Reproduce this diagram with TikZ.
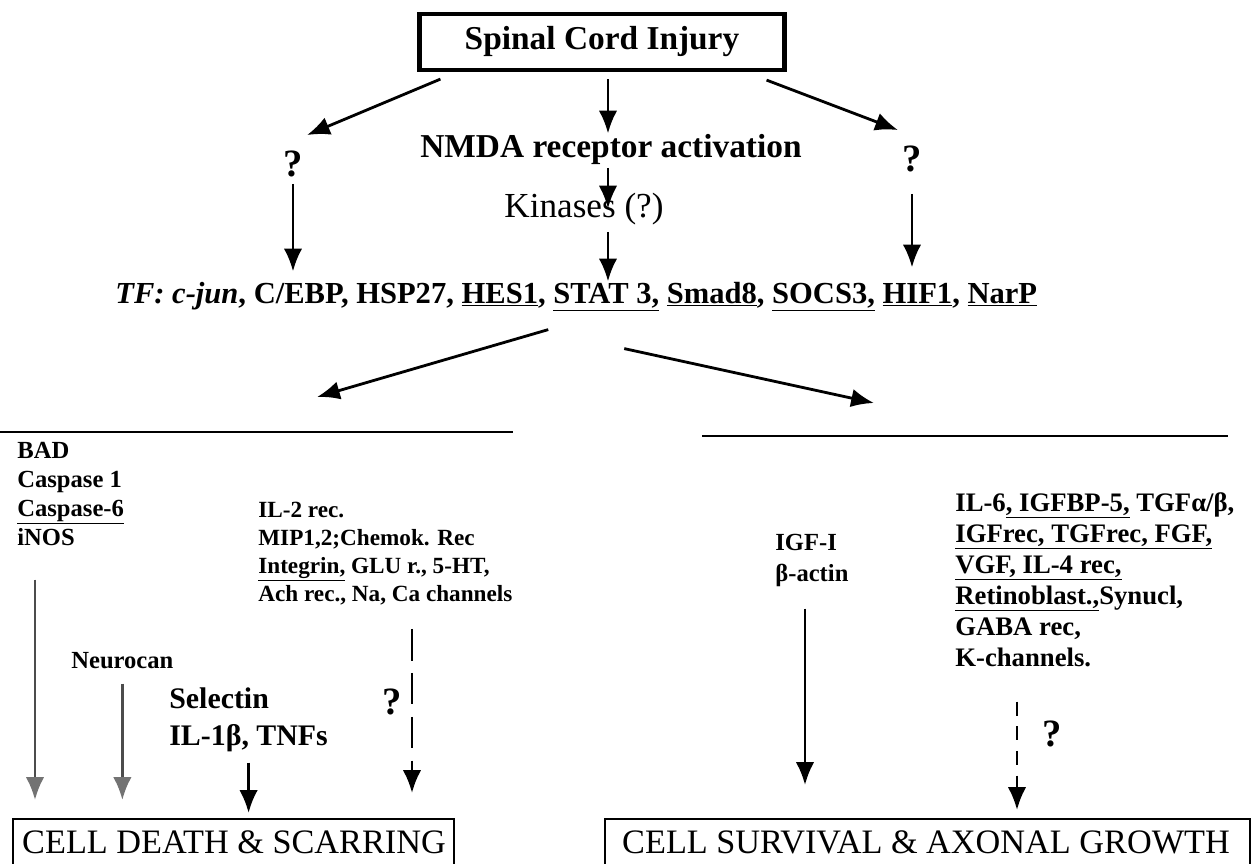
\documentclass[tikz,border=0pt]{standalone}
\usepackage{fontspec}
\setmainfont{Liberation Serif}
\usetikzlibrary{arrows.meta}

\begin{document}
\begin{tikzpicture}[x=0.02cm,y=-0.02cm,
  arr/.style={-{Latex[length=13pt,width=10.5pt]},line width=1.6pt},
  grayarr/.style={draw=black!70,-{Latex[length=13pt,width=10.5pt,color=black!55]},line width=1.6pt},
  dasharr/.style={arr,dash pattern=on 18pt off 7pt},
  dasharrb/.style={arr,dash pattern=on 8pt off 6pt},
  rule/.style={line width=0.9pt},
  big/.style={font=\bfseries\fontsize{19}{23}\selectfont,inner sep=0pt},
  qmark/.style={font=\bfseries\fontsize{22}{26}\selectfont,inner sep=0pt,anchor=base},
  kinfont/.style={font=\fontsize{20}{24}\selectfont,inner sep=0pt},
  tfline/.style={font=\bfseries\fontsize{17.4}{21}\selectfont,inner sep=0pt},
  gene/.style={font=\bfseries\fontsize{14}{17}\selectfont,inner sep=0pt,anchor=base west},
  genesm/.style={gene,font=\bfseries\fontsize{13.2}{16}\selectfont},
  genelg/.style={gene,font=\bfseries\fontsize{15.2}{18}\selectfont},
  genebig/.style={gene,font=\bfseries\fontsize{17}{20}\selectfont},
  endbox/.style={draw,line width=1pt,inner sep=0pt,anchor=north west},
  endtext/.style={font=\fontsize{19.5}{23}\selectfont,inner sep=0pt,anchor=base}]
\path[use as bounding box,fill=white] (0,0) rectangle (1251,863);

% Injury and the NMDA chain
\node[big,draw,line width=2.4pt,minimum width=7.3cm,minimum height=1.12cm] (sci) at (602,42) {Spinal Cord Injury};
\node[big,anchor=base] (nmda) at (611,157) {NMDA receptor activation};
\node[kinfont,anchor=base] (kin) at (584,217) {Kinases (?)};
\node[qmark] (ql) at (293,176) {?};
\node[qmark] (qr) at (912,171) {?};

% Transcription factors
\node[tfline,anchor=base west] (tf) at (115,303) {{\itshape TF:} {\itshape c-jun}, C/EBP, HSP27, \underline{HES1}, \underline{STAT 3,} \underline{Smad8}, \underline{SOCS3,} \underline{HIF1}, \underline{NarP}};

\coordinate (axis) at (608,0);
\draw[arr,shorten <=4pt] (sci.south -| axis) -- (nmda.north -| axis);
\draw[arr,shorten <=2pt] (nmda.south -| axis) -- (kin.center -| axis);
\draw[arr,shorten <=4pt] (kin.south -| axis) -- (tf.north -| axis);
\draw[arr] ([xshift=0.46cm,yshift=-0.14cm]sci.south west) -- ([xshift=0.28cm,yshift=0.3cm]ql.north);
\draw[arr] ([xshift=-0.4cm,yshift=-0.16cm]sci.south east) -- ([xshift=-0.28cm,yshift=0.3cm]qr.north);
\draw[arr,shorten <=0.14cm,shorten >=0.2cm] (ql.south) -- (ql.south |- tf.north);
\draw[arr,shorten <=0.44cm,shorten >=0.28cm] (qr.south) -- (qr.south |- tf.north);

% Two branches
\coordinate (deathside) at (317,397);
\coordinate (lifeside) at (874,403);
\draw[arr] ([xshift=-0.56cm,yshift=-0.36cm]tf.south) -- (deathside);
\draw[arr] ([xshift=0.96cm,yshift=-0.74cm]tf.south) -- (lifeside);
\draw[rule] (0,432) -- (513,432);
\draw[rule] (702,436) -- (1228,436);

% Cell death side
\foreach \g [count=\i] in {BAD, Caspase 1, \underline{Caspase-6}, iNOS}
  \node[gene] (dead\i) at (17,{458+29*(\i-1)}) {\g};
\foreach \g [count=\i] in {IL-2 rec., {MIP1,2;Chemok. Rec}, {\underline{Integrin,} GLU r., 5-HT,}, {Ach rec., Na, Ca channels}}
  \node[genesm] (mid\i) at (258,{517+28*(\i-1)}) {\g};
\node[gene] (neuro) at (71,668) {Neurocan};
\node[genebig] (sel1) at (169,708) {Selectin};
\node[genebig] (sel2) at (169,745) {IL-1β, TNFs};
\node[qmark] (qd) at (392,714) {?};
\node[endbox,minimum width=8.82cm,minimum height=1.2cm] (cdeath) at (12,818) {};
\node[endtext] (cdeathtxt) at (234,853) {CELL DEATH \& SCARRING};

\coordinate (xa) at (35,0);
\coordinate (xd) at (412,0);
\draw[grayarr,shorten <=0.68cm,shorten >=0.36cm] (xa |- dead4.south) -- (xa |- cdeath.north);
\draw[grayarr,shorten <=0.3cm,shorten >=0.36cm] (neuro.south) -- (neuro.south |- cdeath.north);
\draw[arr,shorten <=0.22cm,shorten >=0.1cm] (sel2.south) -- (sel2.south |- cdeath.north);
\draw[dasharr,shorten <=0.48cm,shorten >=0.5cm] (xd |- mid4.south) -- (xd |- cdeath.north);

% Cell survival side
\foreach \g [count=\i] in {IGF-I, β-actin}
  \node[gene] (life\i) at (775,{550+31*(\i-1)}) {\g};
\foreach \g [count=\i] in {{IL-6\underline{, IGFBP-5,} TGFα/β,}, {\underline{IGFrec, TGFrec, FGF,}}, {\underline{VGF, IL-4 rec,}}, {\underline{Retinoblast.,}Synucl,}, {GABA rec,}, {K-channels.}}
  \node[genelg] (grow\i) at (955,{511+31*(\i-1)}) {\g};
\node[qmark] (qg) at (1052,746) {?};
\node[endbox,minimum width=12.9cm,minimum height=1.2cm] (clife) at (604,818) {};
\node[endtext] (clifetxt) at (926,853) {CELL SURVIVAL \& AXONAL GROWTH};

\coordinate (xe) at (805,0);
\coordinate (xf) at (1017,0);
\draw[arr,shorten <=0.44cm,shorten >=0.66cm] (xe |- life2.south) -- (xe |- clife.north);
\draw[dasharrb,shorten <=0.7cm,shorten >=0.16cm] (xf |- grow6.south) -- (xf |- clife.north);
\end{tikzpicture}
\end{document}
